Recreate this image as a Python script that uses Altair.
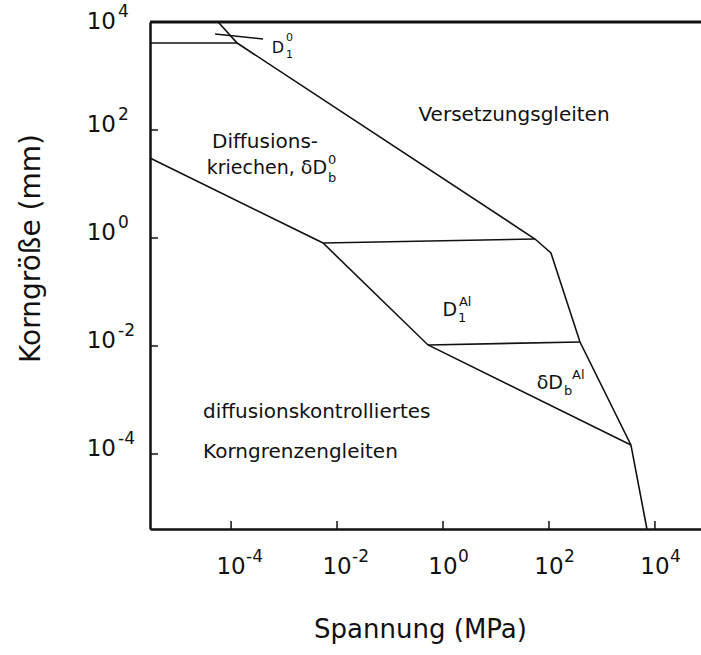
import altair as alt
import pandas as pd

FONT = "DejaVu Sans"
INK = "#111111"

# Field boundaries: stress (MPa) against grain size (mm)
upper_stress = [5.7e-5, 1.30e-4, 54.5, 109, 385, 3520, 7060]
upper_grain = [1e4, 4080, 0.957, 0.527, 0.01186, 1.47e-4, 4.08e-6]

lower_stress = [2.95e-6, 5.44e-3, 0.521, 3520]
lower_grain = [30.3, 0.807, 0.01045, 1.47e-4]

top_stress = [2.95e-6, 1.30e-4]
top_grain = [4080, 4080]

mid1_stress = [5.44e-3, 54.5]
mid1_grain = [0.807, 0.957]

mid2_stress = [0.521, 385]
mid2_grain = [0.01045, 0.01186]

pointer_stress = [4.99e-5, 4.02e-4]
pointer_grain = [6000, 4840]

# Axis ranges and ticks
stress_domain = [2.95e-6, 7.4e4]
grain_domain = [4.08e-6, 1e4]
tick_values = [1e-4, 1e-2, 1.0, 1e2, 1e4]
tick_exponents = ["-4", "-2", "0", "2", "4"]

# Region labels
center_text = ["Versetzungsgleiten"]
center_stress = [21.9]
center_grain = [190]

left_text = ["Diffusions-", "diffusionskontrolliertes", "Korngrenzengleiten"]
left_stress = [4.38e-5, 2.96e-5, 2.96e-5]
left_grain = [60, 6.0e-4, 1.09e-4]

# label bodies that carry sub-/superscripts (anchored at their right end)
body_text = ["kriechen, δD", "D", "δD"]
body_stress = [6.47e-3, 1.84, 184]
body_grain = [19.8, 0.0464, 2.06e-3]

script_text = ["b", "0", "1", "Al", "b", "Al"]
script_stress = [6.76e-3, 6.76e-3, 1.92, 2.0, 192, 272]
script_grain = [12.9, 27.8, 0.033, 0.0653, 1.47e-3, 2.9e-3]

small_body_text = ["D"]
small_body_stress = [1.0e-3]
small_body_grain = [3300]

small_script_text = ["1", "0"]
small_script_stress = [1.09e-3, 1.09e-3]
small_script_grain = [2450, 5060]

# ---------------------------------------------------------------------------
segments = [
    ("upper", upper_stress, upper_grain),
    ("lower", lower_stress, lower_grain),
    ("top", top_stress, top_grain),
    ("mid1", mid1_stress, mid1_grain),
    ("mid2", mid2_stress, mid2_grain),
    ("pointer", pointer_stress, pointer_grain),
]
rows = []
for name, xs, ys in segments:
    for i, (sx, gy) in enumerate(zip(xs, ys)):
        rows.append({"seg": name, "i": i, "stress": sx, "grain": gy})
lines_df = pd.DataFrame(rows)

x_scale = alt.Scale(type="log", domain=stress_domain, nice=False)
y_scale = alt.Scale(type="log", domain=grain_domain, nice=False)

x_axis = alt.Axis(
    values=tick_values, labels=False, ticks=False, grid=False,
    domainColor=INK, domainWidth=2.5,
    title="Spannung (MPa)", titleFont=FONT, titleFontSize=26,
    titleFontWeight="normal", titleColor=INK,
    titleX=270, titleY=108, titleBaseline="alphabetic", titleAlign="center",
)
y_axis = alt.Axis(
    values=tick_values, labels=False, ticks=False, grid=False,
    domainColor=INK, domainWidth=2.5,
    title="Korngröße (mm)", titleFont=FONT, titleFontSize=28,
    titleFontWeight="normal", titleColor=INK,
    titleX=-111, titleY=226, titleAngle=270, titleBaseline="alphabetic",
    titleAlign="center",
)

X = alt.X("stress:Q", scale=x_scale, axis=x_axis)
Y = alt.Y("grain:Q", scale=y_scale, axis=y_axis)

lines = alt.Chart(lines_df).mark_line(color=INK, strokeWidth=1.6).encode(
    x=X, y=Y, detail="seg:N", order="i:Q"
)

top_frame = alt.Chart(pd.DataFrame({"grain": [grain_domain[1]]})).mark_rule(
    color=INK, strokeWidth=2.8
).encode(y=Y)

# inward tick marks
x_tick_df = pd.DataFrame({"stress": tick_values, "e": tick_exponents, "b": ["10"] * 5})
y_tick_df = pd.DataFrame({"grain": tick_values, "e": tick_exponents, "b": ["10"] * 5})

x_ticks = alt.Chart(x_tick_df).mark_rule(color=INK, strokeWidth=1.5).encode(
    x=X, y=alt.value(507), y2=alt.value(499)
)
y_ticks = alt.Chart(y_tick_df).mark_rule(color=INK, strokeWidth=1.5).encode(
    y=Y, x=alt.value(0), x2=alt.value(8)
)

# power-of-ten tick labels: base "10" plus a raised exponent
x_base = alt.Chart(x_tick_df).mark_text(
    align="center", baseline="middle", font=FONT, fontSize=23, color=INK
).encode(x=X, y=alt.value(545), text="b:N")
x_exp = alt.Chart(x_tick_df).mark_text(
    align="left", baseline="middle", font=FONT, fontSize=17, color=INK, dx=15
).encode(x=X, y=alt.value(535), text="e:N")


def y_tick_labels(lift):
    base = alt.Chart(y_tick_df).mark_text(
        align="right", baseline="middle", font=FONT, fontSize=23, color=INK,
        dy=-lift,
    ).encode(y=Y, x=alt.value(-34), text="b:N")
    exp = alt.Chart(y_tick_df).mark_text(
        align="left", baseline="middle", font=FONT, fontSize=17, color=INK,
        dy=-lift - 10,
    ).encode(y=Y, x=alt.value(-32), text="e:N")
    return base, exp


# the label at the top edge sits level with its tick, the others a little above
y_inner = [c.transform_filter(alt.datum.grain < grain_domain[1]) for c in y_tick_labels(5)]
y_top = [c.transform_filter(alt.datum.grain >= grain_domain[1]) for c in y_tick_labels(0)]


def text_layer(texts, xs, ys, align, size):
    df = pd.DataFrame({"t": texts, "stress": xs, "grain": ys})
    return alt.Chart(df).mark_text(
        align=align, baseline="middle", font=FONT, fontSize=size, color=INK
    ).encode(x=X, y=Y, text="t:N")


labels = [
    text_layer(center_text, center_stress, center_grain, "center", 20),
    text_layer(left_text, left_stress, left_grain, "left", 20),
    text_layer(body_text, body_stress, body_grain, "right", 19),
    text_layer(script_text, script_stress, script_grain, "left", 13),
    text_layer(small_body_text, small_body_stress, small_body_grain, "right", 16),
    text_layer(small_script_text, small_script_stress, small_script_grain, "left", 11),
]

chart = alt.layer(
    top_frame, lines, x_ticks, y_ticks, x_base, x_exp, *y_inner, *y_top, *labels
).properties(
    width=551,
    height=507,
    padding={"left": 150, "top": 22, "right": 0, "bottom": 126},
    autosize=alt.AutoSizeParams(type="none"),
    background="white",
).configure_view(stroke=None)

chart.save("out.html", embed_options={"renderer": "svg", "actions": False})
